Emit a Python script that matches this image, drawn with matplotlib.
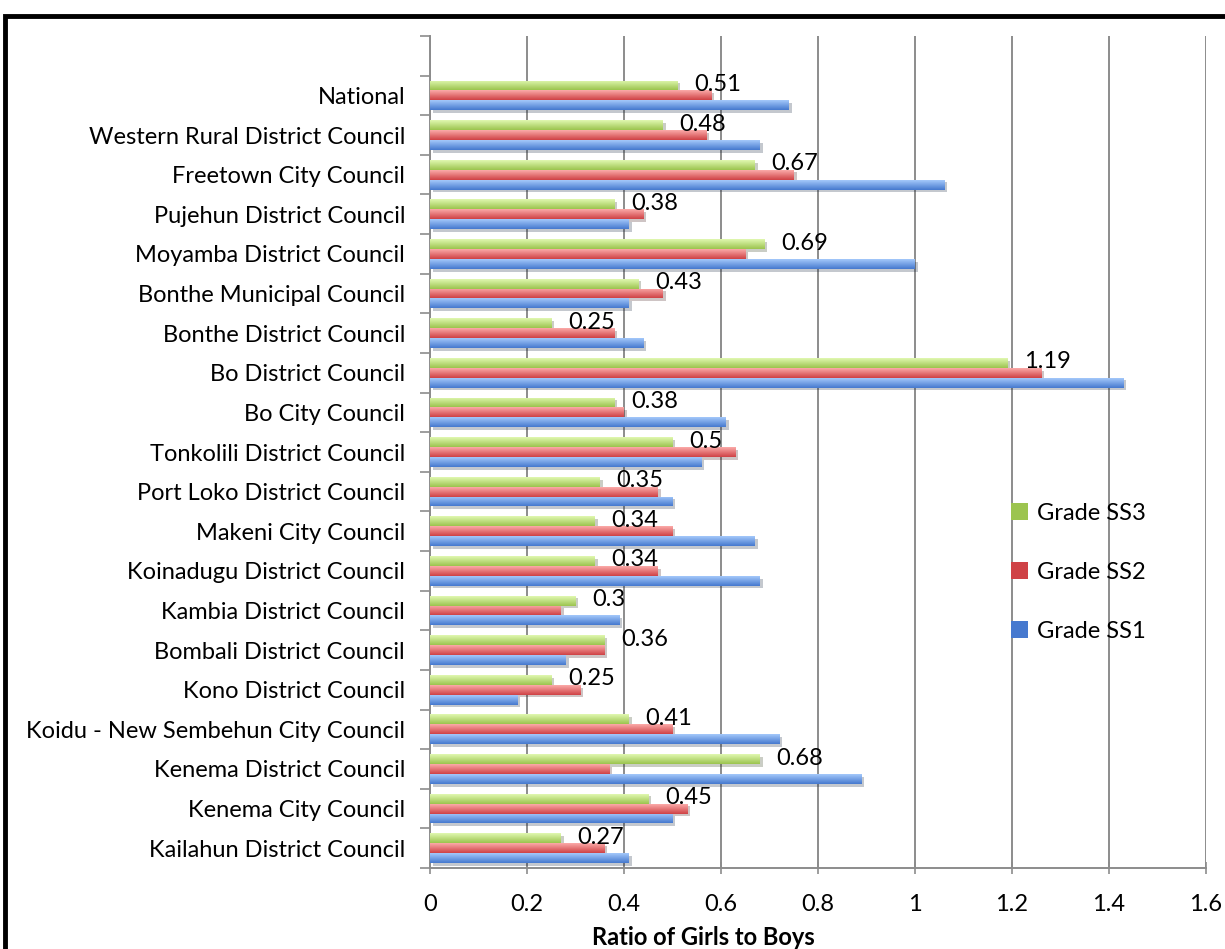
import matplotlib.pyplot as plt
import matplotlib.patheffects as pe
import numpy as np
from matplotlib.colors import LinearSegmentedColormap
from matplotlib.patches import Patch, Rectangle

plt.rcParams['font.family'] = ['Lato', 'DejaVu Sans']

# councils listed top to bottom
councils = [
    "National",
    "Western Rural District Council",
    "Freetown City Council",
    "Pujehun District Council",
    "Moyamba District Council",
    "Bonthe Municipal Council",
    "Bonthe District Council",
    "Bo District Council",
    "Bo City Council",
    "Tonkolili District Council",
    "Port Loko District Council",
    "Makeni City Council",
    "Koinadugu District Council",
    "Kambia District Council",
    "Bombali District Council",
    "Kono District Council",
    "Koidu - New Sembehun City Council",
    "Kenema District Council",
    "Kenema City Council",
    "Kailahun District Council",
]
ss3 = [0.51, 0.48, 0.67, 0.38, 0.69, 0.43, 0.25, 1.19, 0.38, 0.50,
       0.35, 0.34, 0.34, 0.30, 0.36, 0.25, 0.41, 0.68, 0.45, 0.27]
ss2 = [0.58, 0.57, 0.75, 0.44, 0.65, 0.48, 0.38, 1.26, 0.40, 0.63,
       0.47, 0.50, 0.47, 0.27, 0.36, 0.31, 0.50, 0.37, 0.53, 0.36]
ss1 = [0.74, 0.68, 1.06, 0.41, 1.00, 0.41, 0.44, 1.43, 0.61, 0.56,
       0.50, 0.67, 0.68, 0.39, 0.28, 0.18, 0.72, 0.89, 0.50, 0.41]
x_ticks = [0, 0.2, 0.4, 0.6, 0.8, 1, 1.2, 1.4, 1.6]

# (top colour, bottom colour) for each series
shades = {
    "Grade SS3": ("#e0f8b0", "#9cc44f"),
    "Grade SS2": ("#fbaaa8", "#cf4246"),
    "Grade SS1": ("#a3c8fa", "#4679cf"),
}

FS = 17

fig = plt.figure(figsize=(12.25, 9.49), dpi=100)
ax = fig.add_axes([430 / 1225, 81 / 949, 776 / 1225, 832 / 949])

n = len(councils)
y = np.arange(n)[::-1]
h = 0.25
grad = np.linspace(0, 1, 32).reshape(-1, 1)

series = [("Grade SS3", ss3, h), ("Grade SS2", ss2, 0.0), ("Grade SS1", ss1, -h)]
for name, vals, off in series:
    top, bot = shades[name]
    cmap = LinearSegmentedColormap.from_list(name, [top, bot])
    bars = ax.barh(y + off, vals, height=h, color=bot, linewidth=0, zorder=3,
                   path_effects=[pe.SimplePatchShadow(offset=(2, -2), alpha=0.25),
                                 pe.Normal()])
    for b in bars:
        x0, y0 = b.get_x(), b.get_y()
        im = ax.imshow(grad, cmap=cmap, aspect='auto', zorder=4,
                       extent=(x0, x0 + b.get_width(), y0, y0 + b.get_height()),
                       origin='upper', interpolation='bilinear')
        im.set_clip_path(b)

# value labels for Grade SS3
for yi, v in zip(y, ss3):
    ax.annotate(f"{v:g}", (v, yi + h * 1.1), xytext=(12, 0), textcoords='offset points',
                ha='left', va='center', fontsize=FS, zorder=6)

ax.set_xlim(0, 1.6)
ax.set_ylim(-0.5, n + 0.5)
ax.set_xticks(x_ticks)
ax.set_xticklabels([f"{t:g}" for t in x_ticks], fontsize=FS)
ax.set_yticks(y)
ax.set_yticklabels(councils, fontsize=FS)
ax.set_yticks(np.arange(-0.5, n + 0.6, 1), minor=True)
ax.tick_params(axis='y', which='major', length=0, pad=18)
ax.tick_params(axis='y', which='minor', length=7, width=1.2, color='#8c8c8c')
ax.tick_params(axis='x', which='major', length=8, width=1.2, color='#8c8c8c',
               direction='inout', pad=15)

ax.grid(axis='x', color='#8c8c8c', linewidth=1.4, zorder=0)
ax.set_axisbelow(True)
for side in ('top', 'right'):
    ax.spines[side].set_visible(False)
for side in ('left', 'bottom'):
    ax.spines[side].set_color('#8c8c8c')
    ax.spines[side].set_linewidth(1.4)

ax.set_xlabel("Ratio of Girls to Boys", fontsize=FS, fontweight='bold')
ax.xaxis.set_label_coords(0.352, -0.07)

handles = [Patch(facecolor=shades[k][1], edgecolor='none') for k in shades]
ax.legend(handles, list(shades), loc='upper left', frameon=False,
          bbox_to_anchor=(1011 / 1225, 1 - 503 / 949), bbox_transform=fig.transFigure,
          fontsize=FS, labelspacing=1.6, handlelength=0.7, handleheight=0.7,
          handletextpad=0.4, borderpad=0, borderaxespad=0)

# outer frame, running off the right and bottom edges
top_y = 1 - 16 / 949
fig.patches.append(Rectangle((5 / 1225, -0.1), 1.2, top_y + 0.1,
                             transform=fig.transFigure, fill=False,
                             edgecolor='black', linewidth=3.5, zorder=10))

fig.savefig("out.png", dpi=100)
